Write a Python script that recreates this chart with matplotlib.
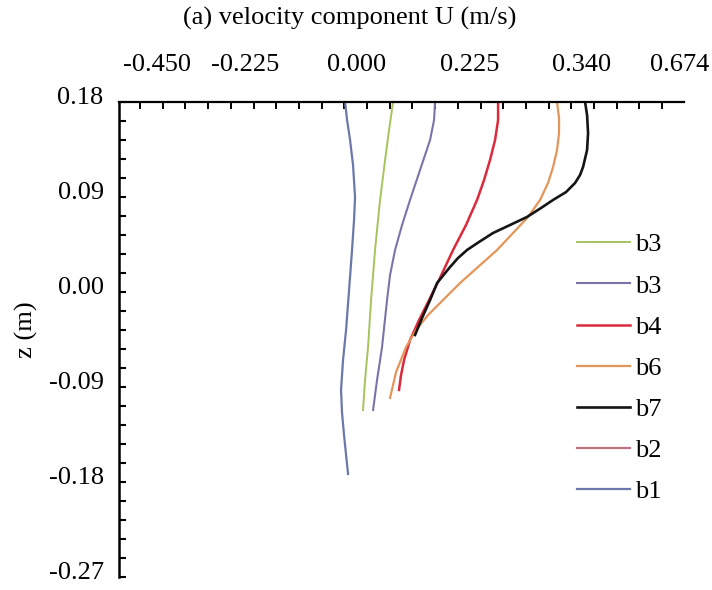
import numpy as np
import matplotlib
matplotlib.use('Agg')
import matplotlib.pyplot as plt
from matplotlib.transforms import ScaledTranslation

plt.rcParams['font.family'] = ['Liberation Serif', 'DejaVu Serif']

# velocity profiles, U (m/s) against z (m)
z_b1 = [0.1800, 0.1629, 0.1440, 0.1203, 0.0900, 0.0682, 0.0398, 0.0019, -0.0360, -0.0644,
        -0.0928, -0.1146, -0.1355, -0.1544, -0.1724]
u_b1 = [-0.0239, -0.0199, -0.0139, -0.0080, -0.0040, -0.0060, -0.0100, -0.0159, -0.0219, -0.0279,
        -0.0319, -0.0299, -0.0259, -0.0219, -0.0179]

z_b3a = [0.1800, 0.1535, 0.1251, 0.0872, 0.0398, -0.0076, -0.0521, -0.0834, -0.1118]
u_b3a = [0.0717, 0.0637, 0.0558, 0.0458, 0.0358, 0.0279, 0.0219, 0.0159, 0.0119]

z_b3b = [0.1800, 0.1629, 0.1440, 0.1184, 0.0872, 0.0635, 0.0398, 0.0161, -0.0076, -0.0521,
         -0.0834, -0.1118]
u_b3b = [0.1553, 0.1533, 0.1454, 0.1274, 0.1055, 0.0896, 0.0757, 0.0657, 0.0597, 0.0498,
         0.0398, 0.0319]

z_b4 = [0.1800, 0.1629, 0.1440, 0.1251, 0.1061, 0.0872, 0.0635, 0.0398, 0.0256, 0.0114,
        -0.0076, -0.0265, -0.0455, -0.0644, -0.0786, -0.0928]
u_b4 = [0.2808, 0.2808, 0.2748, 0.2648, 0.2529, 0.2389, 0.2170, 0.1912, 0.1772, 0.1633,
        0.1434, 0.1235, 0.1055, 0.0936, 0.0876, 0.0836]

z_b6 = [0.1800, 0.1648, 0.1506, 0.1345, 0.1184, 0.1033, 0.0872, 0.0711, 0.0559, 0.0398,
        0.0237, 0.0085, -0.0076, -0.0218, -0.0360, -0.0521, -0.0758, -0.1004]
u_b6 = [0.3982, 0.4022, 0.4022, 0.3982, 0.3903, 0.3803, 0.3644, 0.3405, 0.3106, 0.2788,
        0.2409, 0.2051, 0.1712, 0.1414, 0.1175, 0.0976, 0.0777, 0.0657]

z_b7 = [0.1800, 0.1677, 0.1506, 0.1345, 0.1184, 0.1108, 0.1033, 0.0947, 0.0872, 0.0796,
        0.0711, 0.0635, 0.0559, 0.0474, 0.0398, 0.0322, 0.0237, 0.0085, -0.0076, -0.0246,
        -0.0407]
u_b7 = [0.4540, 0.4580, 0.4600, 0.4580, 0.4500, 0.4440, 0.4341, 0.4162, 0.3903, 0.3664,
        0.3385, 0.3047, 0.2708, 0.2429, 0.2190, 0.2011, 0.1852, 0.1593, 0.1454, 0.1294,
        0.1155]

# b2 has no visible curve, only a legend entry
z_b2 = []
u_b2 = []

# top axis labels (as printed) and where they sit
xtick_pos = [-0.398, -0.223, 0.0, 0.225, 0.448, 0.643]
xtick_lab = ['-0.450', '-0.225', '0.000', '0.225', '0.340', '0.674']
ytick_pos = [0.18, 0.09, 0.0, -0.09, -0.18, -0.27]
ytick_lab = ['0.18', '0.09', '0.00', '-0.09', '-0.18', '-0.27']

fig = plt.figure(figsize=(7.12, 5.90), dpi=100)
ax = fig.add_axes([119/712, 1 - 577/590, (684 - 119)/712, (577 - 102)/590])

ax.plot(u_b3a, z_b3a, color='#a6c35e', lw=1.4, label='b3')
ax.plot(u_b3b, z_b3b, color='#7b74aa', lw=1.5, label='b3')
ax.plot(u_b4, z_b4, color='#dc2a3c', lw=1.8, label='b4')
ax.plot(u_b6, z_b6, color='#e3955a', lw=1.6, label='b6')
ax.plot(u_b7, z_b7, color='#151515', lw=1.9, label='b7')
ax.plot(u_b2, z_b2, color='#c07282', lw=1.6, label='b2')
ax.plot(u_b1, z_b1, color='#6c78aa', lw=1.6, label='b1')

ax.set_xlim(-0.474, 0.651)
ax.set_ylim(-0.27, 0.18)

# axis on top, left only
ax.spines['right'].set_visible(False)
ax.spines['bottom'].set_visible(False)
ax.spines['top'].set_linewidth(1.6)
ax.spines['left'].set_linewidth(1.8)
ax.xaxis.tick_top()

ax.set_xticks(xtick_pos)
ax.set_xticklabels(xtick_lab)
ax.set_xticks(np.arange(-0.4321, 0.64, 0.0452), minor=True)
ax.tick_params(axis='x', which='major', length=0, pad=19, labelsize=19)
ax.tick_params(axis='x', which='minor', direction='in', length=5, width=1.4)

ax.set_yticks(ytick_pos)
ax.set_yticklabels(ytick_lab)
ax.set_yticks(np.arange(-0.27, 0.181, 0.018), minor=True)
ax.tick_params(axis='y', which='both', direction='in', length=5, width=1.5)
ax.tick_params(axis='y', which='major', pad=11, labelsize=19)
for lab in ax.get_yticklabels():
    lab.set_transform(lab.get_transform() + ScaledTranslation(0, 5/72, fig.dpi_scale_trans))

fig.text(350/712, 1 - 18/590, '(a) velocity component U (m/s)', fontsize=19,
         ha='center', va='center')
fig.text(26/712, 1 - 330/590, 'z (m)', fontsize=19, rotation=90,
         ha='center', va='center')

ax.legend(loc='upper left', bbox_to_anchor=(577/712, 1 - 233/590),
          bbox_transform=fig.transFigure, frameon=False, fontsize=19,
          handlelength=2.0, handletextpad=0.2, labelspacing=0.67,
          borderpad=0, borderaxespad=0)

fig.savefig('out.png', dpi=100)
